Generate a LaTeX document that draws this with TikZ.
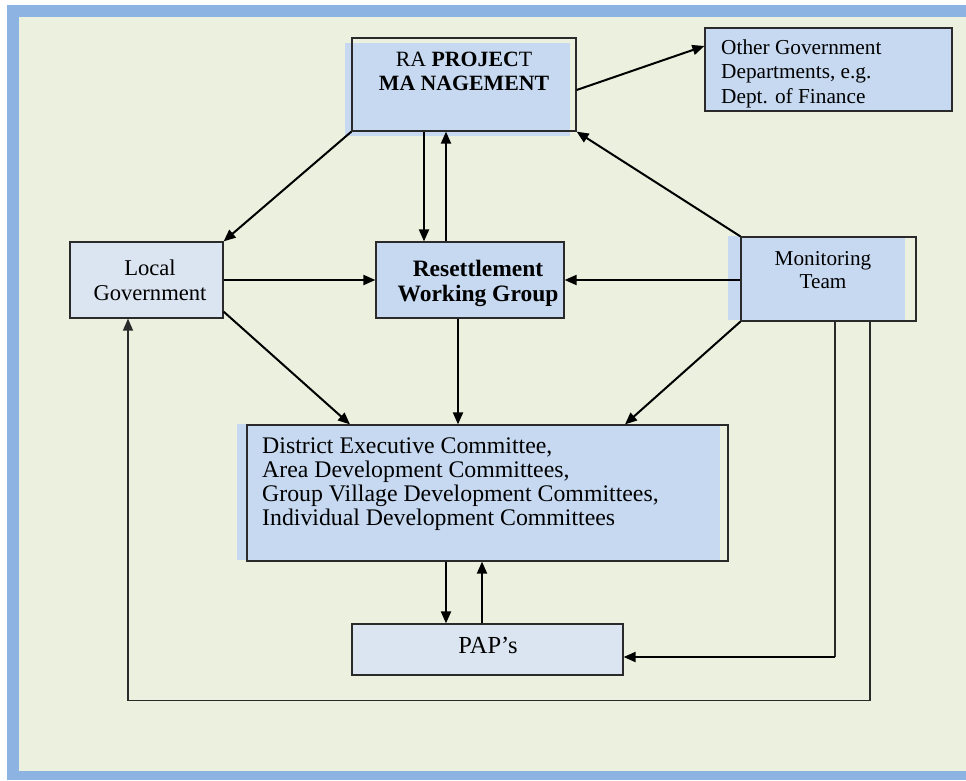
\documentclass[tikz,border=0pt]{standalone}
\usepackage{fontspec}
\setmainfont{Liberation Serif}
\usetikzlibrary{arrows.meta}
\definecolor{bgg}{HTML}{EBF1DE}
\definecolor{frameb}{HTML}{8DB3E2}
\definecolor{boxb}{HTML}{C6D9F1}
\definecolor{boxl}{HTML}{DBE5F1}
\definecolor{edge}{HTML}{2A2A2A}
\tikzset{
  boxframe/.style={draw=edge, line width=1.2pt, inner sep=0pt},
  txt/.style={inner sep=0pt, font=\fontsize{21}{25}\selectfont},
  arr/.style={line width=2pt, -{Triangle[length=12pt,width=10pt]}},
  thin/.style={line width=1.3pt, draw=edge},
}
\begin{document}
\begin{tikzpicture}[x=1pt,y=-1pt]
\useasboundingbox (0,0) rectangle (966,780);
\fill[white] (0,0) rectangle (966,780);
\fill[frameb] (7,5) rectangle (966,780);
\fill[bgg] (19,17) rectangle (966,771);

% fills with offset
\fill[boxb] (345,43) rectangle (570,136);
\fill[boxb] (728,236) rectangle (905,320);
\fill[boxb] (237,424) rectangle (720,560);

% boxes
\node[boxframe, minimum width=224pt, minimum height=93pt] (ra) at (464,84.5) {};
\node[boxframe, fill=boxb, minimum width=247pt, minimum height=83pt] (og) at (828.5,69.5) {};
\node[boxframe, fill=boxl, minimum width=153pt, minimum height=76pt] (lg) at (146.5,280) {};
\node[boxframe, fill=boxb, minimum width=188pt, minimum height=76pt] (rwg) at (470,280) {};
\node[boxframe, minimum width=175pt, minimum height=84pt] (mt) at (828.5,279) {};
\node[boxframe, minimum width=481pt, minimum height=136pt] (dc) at (487.5,493) {};
\node[boxframe, fill=boxl, minimum width=271pt, minimum height=51pt] (pap) at (487.5,649.5) {};

% texts (base anchor = baseline of the last line)
\node[txt, anchor=base, align=center, font=\fontsize{21.8}{24}\selectfont] (ratext) at (464,90) {RA \textbf{PROJEC}T\\\textbf{MA NAGEMENT}};
\node[txt, anchor=base west, align=left, font=\fontsize{21.3}{24.2}\selectfont] (ogtext) at (721,103) {Other Government\\Departments, e.g.\\Dept. of Finance};
\node[txt, anchor=base, align=center, font=\fontsize{22.6}{25.7}\selectfont] (lgtext) at (150,300.7) {Local\\Government};
\node[txt, anchor=base, align=center, font=\fontsize{23.5}{25}\selectfont\bfseries] (rwgtext) at (478,301) {Resettlement\\Working Group};
\node[txt, anchor=base, align=center, font=\fontsize{21.2}{23}\selectfont] (mttext) at (823,288) {Monitoring\\Team};
\node[txt, anchor=base west, align=left, font=\fontsize{23.8}{23.7}\selectfont] (dctext) at (262,525) {District Executive Committee,\\Area Development Committees,\\Group Village Development Committees,\\Individual Development Committees};
\node[txt, anchor=base, font=\fontsize{24.5}{26}\selectfont] (paptext) at (488,653) {PAP’s};

% connectors
\draw[arr] ([yshift=-5.5pt]ra.east) -- ([yshift=23.5pt]og.west);
\draw[arr] (ra.south west) -- (lg.north east);
\draw[arr] ([xshift=-40pt]ra.south) -- ([xshift=-40pt]ra.south |- rwg.north);
\draw[arr] ([xshift=-18pt]ra.south |- rwg.north) -- ([xshift=-18pt]ra.south);
\draw[arr] (lg.east) -- (rwg.west);
\draw[arr] (mt.west |- rwg.east) -- (rwg.east);
\draw[arr] (mt.north west) -- (ra.south east);
\draw[arr] ([yshift=7pt]lg.south east) -- ([xshift=-137.5pt]dc.north);
\draw[arr] ([xshift=-12pt]rwg.south) -- ([xshift=-12pt]rwg.south |- dc.north);
\draw[arr] (mt.south west) -- ([xshift=137.5pt]dc.north);
\draw[arr] ([xshift=-41.5pt]dc.south) -- ([xshift=-41.5pt]dc.south |- pap.north);
\draw[arr] ([xshift=-5.5pt]dc.south |- pap.north) -- ([xshift=-5.5pt]dc.south);
\draw[thin] ([xshift=6.5pt]mt.south) -- ([xshift=6.5pt]mt.south |- 0,657);
\draw[arr] ([xshift=6.5pt]mt.south |- 0,657) -- ([yshift=-7.5pt]pap.east);
\draw[thin, -{Triangle[length=12pt,width=10pt]}] ([xshift=41.5pt]mt.south) -- ++(0,379) -| ([xshift=-18.5pt]lg.south);
\end{tikzpicture}
\end{document}
